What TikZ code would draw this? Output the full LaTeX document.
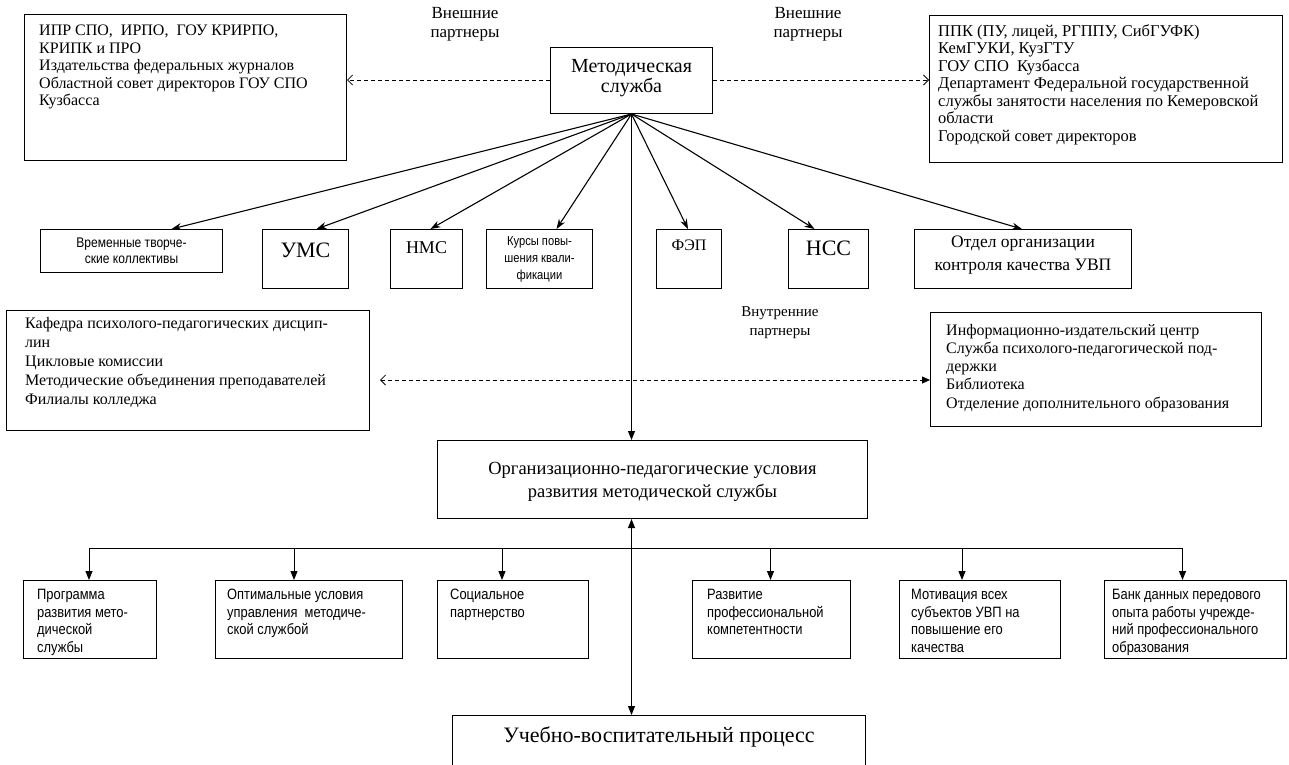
\documentclass[tikz,border=0pt]{standalone}
\usepackage{fontspec}
\setmainfont{Liberation Serif}
\newfontfamily\nsans[FakeStretch=0.86]{Liberation Sans}
\usetikzlibrary{arrows.meta,calc}
\tikzset{
  boxframe/.style={draw, line width=1pt, rectangle, inner sep=0pt, anchor=north west},
  fan/.style={line width=1.1pt, -{Stealth[length=10pt,width=7pt]}},
  tri/.style={line width=1pt, -{Triangle[length=9pt,width=7pt]}},
  dsh/.style={line width=0.8pt, dash pattern=on 4pt off 3pt},
  ltxt/.style={inner sep=0pt, anchor=north west, align=left},
  stxt/.style={inner sep=0pt, anchor=north west, align=left, font=\nsans\fontsize{15}{17.5}\selectfont},
  lbl/.style={inner sep=0pt, align=center},
}
\newcommand\rect[5]{\node[boxframe, minimum width={(#4-#2)*1pt}, minimum height={(#5-#3)*1pt}] (#1) at (#2,#3) {};}
\begin{document}
\begin{tikzpicture}[x=1pt,y=-1pt]
\useasboundingbox (0,0) rectangle (1289,764);
% top row
\rect{tl}{24}{14}{346}{160}
\node[ltxt, font=\fontsize{16}{17.5}\selectfont] (tlt) at (39,25) {ИПР СПО,~ ИРПО,~ ГОУ КРИРПО,\\КРИПК и ПРО\\Издательства федеральных журналов\\Областной совет директоров ГОУ СПО\\Кузбасса};
\rect{tr}{929}{15}{1282}{162}
\node[ltxt, font=\fontsize{16.5}{17.5}\selectfont] (trt) at (938,24) {ППК (ПУ, лицей, РГППУ, СибГУФК)\\КемГУКИ, КузГТУ\\ГОУ СПО~ Кузбасса\\Департамент Федеральной государственной\\службы занятости населения по Кемеровской\\области\\Городской совет директоров};
\rect{ms}{550}{47}{712}{113}
\node[lbl, font=\fontsize{20}{20}\selectfont] (mst) at ($(ms.center)+(0,-2)$) {Методическая\\служба};
\node[lbl, font=\fontsize{17}{18.5}\selectfont] (ep1) at (465,24) {Внешние\\партнеры};
\node[lbl, font=\fontsize{17}{18.5}\selectfont] (ep2) at (808,24) {Внешние\\партнеры};
\draw[dsh, -{Straight Barb[length=5pt,width=10pt]}] (ms.west |- 0,80) -- (tl.east |- 0,80);
\draw[dsh, -{Straight Barb[length=5pt,width=10pt]}] (ms.east |- 0,80) -- (tr.west |- 0,80);
% second row
\rect{vt}{40}{229}{222}{272}
\node[lbl, font=\nsans\fontsize{14}{16}\selectfont] (vtt) at (vt.center) {Временные творче-\\ские коллективы};
\rect{ums}{262}{229}{348}{288}
\node[lbl, font=\fontsize{22}{24}\selectfont] (umst) at ($(ums.north)+(0,21)$) {УМС};
\rect{nms}{390}{229}{462}{288}
\node[lbl, font=\fontsize{18}{20}\selectfont] (nmst) at ($(nms.north)+(0,19)$) {НМС};
\rect{kpk}{486}{229}{592}{288}
\node[lbl, font=\nsans\fontsize{13}{17}\selectfont] (kpkt) at (kpk.center) {Курсы повы-\\шения квали-\\фикации};
\rect{fep}{656}{229}{721}{288}
\node[lbl, font=\fontsize{16}{20}\selectfont] (fept) at ($(fep.north)+(0,16)$) {ФЭП};
\rect{nss}{788}{229}{868}{288}
\node[lbl, font=\fontsize{22}{24}\selectfont] (nsst) at ($(nss.north)+(0,19)$) {НСС};
\rect{ook}{914}{229}{1131}{288}
\node[lbl, font=\fontsize{17.5}{23}\selectfont] (ookt) at ($(ook.north)+(0,26)$) {Отдел организации\\контроля качества УВП};
\draw[fan] (ms.south) -- ([xshift=40]vt.north);
\draw[fan] (ms.south) -- ([xshift=11]ums.north);
\draw[fan] (ms.south) -- ([xshift=4]nms.north);
\draw[fan] (ms.south) -- ([xshift=17]kpk.north);
\draw[fan] (ms.south) -- ([xshift=-1]fep.north);
\draw[fan] (ms.south) -- ([xshift=-14]nss.north);
\draw[fan] (ms.south) -- ([xshift=-1]ook.north);
% inner partners
\node[lbl, font=\fontsize{15}{19}\selectfont] (ip) at (780,323) {Внутренние\\партнеры};
\rect{il}{6}{310}{369}{430}
\node[ltxt, font=\fontsize{16}{19}\selectfont] (ilt) at (25,317) {Кафедра психолого-педагогических дисцип-\\лин\\Цикловые комиссии\\Методические объединения преподавателей\\Филиалы колледжа};
\rect{ir}{930}{312}{1261}{426}
\node[ltxt, font=\fontsize{16}{18.2}\selectfont] (irt) at (946,324) {Информационно-издательский центр\\Служба психолого-педагогической под-\\держки\\Библиотека\\Отделение дополнительного образования};
\draw[dsh, {Straight Barb[length=5pt,width=10pt]}-{Triangle[length=8pt,width=7pt]}] ([xshift=10]il.east |- 0,380) -- (ir.west |- 0,380);
% organisational conditions
\rect{org}{437}{440}{867}{518}
\node[lbl, font=\fontsize{18.5}{23}\selectfont] (orgt) at ($(org.north)+(0,42)$) {Организационно-педагогические условия\\развития методической службы};
\draw[tri] (ms.south) -- (ms.south |- org.north);
% bottom row
\rect{b1}{23}{580}{156}{658}
\rect{b2}{215}{580}{402}{658}
\rect{b3}{437}{580}{588}{658}
\rect{b4}{692}{580}{850}{658}
\rect{b5}{899}{580}{1060}{658}
\rect{b6}{1104}{580}{1286}{658}
\node[stxt] (b1t) at (37,589) {Программа\\развития мето-\\дической\\службы};
\node[stxt] (b2t) at (227,589) {Оптимальные условия\\управления~ методиче-\\ской службой};
\node[stxt] (b3t) at (450,589) {Социальное\\партнерство};
\node[stxt] (b4t) at (707,589) {Развитие\\профессиональной\\компетентности};
\node[stxt] (b5t) at (911,589) {Мотивация всех\\субъектов УВП на\\повышение его\\качества};
\node[stxt] (b6t) at (1112,589) {Банк данных передового\\опыта работы учрежде-\\ний профессионального\\образования};
\coordinate (bus) at (629,548);
\draw[line width=1pt] ([xshift=-1]b1.north |- bus) -- ([xshift=-13]b6.north |- bus);
\draw[tri] ([xshift=-1]b1.north |- bus) -- ([xshift=-1]b1.north);
\draw[tri] ([xshift=-15]b2.north |- bus) -- ([xshift=-15]b2.north);
\draw[tri] ([xshift=-11]b3.north |- bus) -- ([xshift=-11]b3.north);
\draw[tri] ([xshift=-1]b4.north |- bus) -- ([xshift=-1]b4.north);
\draw[tri] ([xshift=-18]b5.north |- bus) -- ([xshift=-18]b5.north);
\draw[tri] ([xshift=-13]b6.north |- bus) -- ([xshift=-13]b6.north);
% learning process
\rect{uvp}{452}{715}{865}{790}
\node[lbl, font=\fontsize{22}{24}\selectfont] (uvpt) at ($(uvp.north)+(0,22)$) {Учебно-воспитательный процесс};
\draw[line width=1pt, {Triangle[length=9pt,width=7pt]}-{Triangle[length=9pt,width=7pt]}] (ms.south |- org.south) -- (ms.south |- uvp.north);
\end{tikzpicture}
\end{document}
